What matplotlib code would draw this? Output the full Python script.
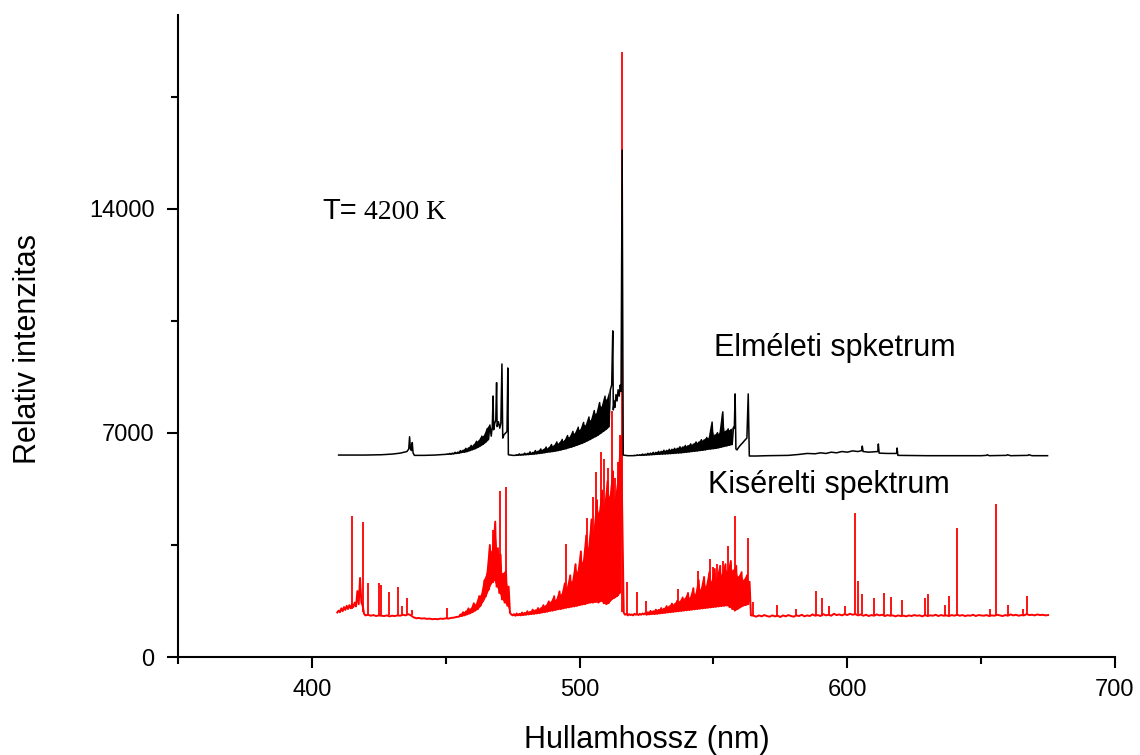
import numpy as np
import matplotlib
matplotlib.use("Agg")
import matplotlib.pyplot as plt

plt.rcParams['font.family'] = ['Liberation Sans', 'DejaVu Sans']
plt.rcParams['path.simplify'] = False

# ---------- theoretical spectrum (black) ----------
# sparse vertices: wavelength (nm), intensity
black_a_wl = [410, 420, 426, 430, 433, 435.5, 436.2, 436.5, 436.8, 437.2, 437.5, 437.8, 438.3, 442, 446, 449.5]
black_a_val = [6310, 6310, 6320, 6340, 6370, 6420, 6500, 6880, 6520, 6450, 6700, 6380, 6300, 6300, 6310, 6330]

# band 1, 0.5 nm samples from 450 nm (low / high pairs)
black_band1 = [6330, 6345, 6335, 6360, 6340, 6370, 6350, 6395, 6360, 6400, 6370, 6450,
               6390, 6460, 6400, 6520, 6420, 6530, 6450, 6610, 6480, 6620, 6510, 6740,
               6550, 6760, 6600, 6900, 6650, 6920, 6720, 7130, 6800, 7250, 6900]

black_b_wl = [467.4, 467.7, 467.9, 468.3, 468.7, 469.0, 469.2, 469.7, 470.2, 470.6, 471.0, 471.3,
              471.8, 472.4, 472.9, 473.2, 473.4, 475.0]
black_b_val = [7200, 8156, 7100, 7300, 7400, 8572, 7200, 7350, 7150, 7300, 9156, 6840,
               6950, 7000, 7050, 9031, 6320, 6300]

# band 2, 0.5 nm samples from 476 nm
black_band2 = [6300, 6320, 6305, 6345, 6310, 6335, 6315, 6370, 6320, 6360, 6325, 6410,
               6330, 6390, 6340, 6450, 6350, 6430, 6360, 6500, 6370, 6480, 6385, 6560,
               6400, 6530, 6410, 6640, 6420, 6600, 6435, 6720, 6450, 6680, 6470, 6800,
               6490, 6760, 6510, 6920, 6540, 6870, 6560, 7050, 6590, 6990, 6620, 7180,
               6650, 7100, 6680, 7330, 6720, 7240, 6760, 7500, 6800, 7400, 6850, 7700,
               6890, 7600, 6940, 7950, 7000, 7820, 7060, 8150, 7120, 8050, 7200, 8350]

black_c_wl = [512.0, 512.4, 512.6, 512.9, 513.2, 513.6, 514.0, 514.4, 514.8, 515.2, 515.5,
              515.9, 516.3, 518.0, 519.5]
black_c_val = [8500, 10190, 7720, 8000, 7800, 8200, 8000, 8350, 8150, 8500, 8300,
               15840, 6310, 6290, 6290]

# band 3, 0.5 nm samples from 520 nm
black_band3 = [6290, 6300, 6295, 6315, 6300, 6320, 6300, 6340, 6305, 6340, 6310, 6365,
               6315, 6370, 6320, 6395, 6325, 6395, 6330, 6425, 6335, 6425, 6340, 6460,
               6345, 6455, 6350, 6490, 6355, 6490, 6360, 6520, 6370, 6520, 6375, 6570,
               6380, 6560, 6390, 6610, 6400, 6600, 6410, 6660, 6420, 6650, 6430, 6720,
               6440, 6710, 6450, 6790, 6460, 6780, 6475, 6860, 6490, 6850, 6500, 7340,
               6510, 6930, 6520, 7010, 6540, 6990, 6560, 7660, 6580, 7050, 6600, 7130,
               6620, 7100, 6640, 7180]

black_d_wl = [557.8, 558.1, 558.4, 558.8, 559.5, 560.3, 561.0, 561.8, 562.5, 563.0, 563.4,
              566, 570, 578, 582, 585, 588, 590, 592, 594, 596, 598, 600, 602, 604,
              605.4, 605.6, 605.9, 608, 611.4, 611.6, 611.9, 615, 618.4, 618.6, 618.9,
              630, 650, 652, 652.3, 653, 659.5, 659.8, 661, 667.5, 667.8, 669, 674.8]
black_d_val = [7150, 8220, 6500, 6470, 6560, 6640, 6700, 6780, 6840, 8220, 6280,
               6280, 6290, 6300, 6330, 6360, 6350, 6380, 6360, 6400, 6380, 6420, 6400, 6440, 6420,
               6450, 6590, 6420, 6400, 6420, 6656, 6370, 6360, 6360, 6530, 6300,
               6290, 6290, 6300, 6320, 6290, 6300, 6320, 6290, 6300, 6320, 6290, 6290]

# ---------- experimental spectrum (red) ----------
# 0.5 nm samples from 409.5 nm
red_seg_a = [1390, 1450, 1400, 1520, 1430, 1560, 1470, 1600, 1500, 1620, 1520, 1650,
             1560, 1700, 1580, 2060, 1650, 2470, 1700, 1600, 1350]
# 1 nm samples from 420 nm
red_seg_b = [1300, 1320, 1290, 1310, 1280, 1300, 1290, 1280, 1300, 1270, 1290, 1280,
             1300, 1290, 1320, 1300, 1340, 1300, 1240, 1210, 1220, 1200, 1210, 1190,
             1200, 1180, 1190, 1180, 1200, 1190, 1210, 1200, 1220, 1230, 1250]
# 0.5 nm samples from 455 nm
red_band1 = [1260, 1330, 1280, 1400, 1300, 1420, 1330, 1520, 1360, 1500, 1400, 1680,
             1450, 1650, 1500, 1900, 1600, 1950, 1750, 2400, 1900, 2600, 2100, 3500,
             2300, 3300, 2400, 4230, 2200, 3400, 2000, 3200, 1800, 2600, 1700, 2700,
             1600, 2200, 1380, 1330]
# 0.5 nm samples from 475 nm
red_band2 = [1300, 1340, 1290, 1360, 1300, 1350, 1300, 1390, 1310, 1380, 1320, 1430,
             1330, 1410, 1340, 1480, 1350, 1460, 1360, 1530, 1370, 1520, 1390, 1620,
             1400, 1600, 1420, 1740, 1440, 1720, 1450, 1900, 1470, 1780, 1490, 2050,
             1500, 1950, 1520, 2300, 1540, 2150, 1550, 2550, 1570, 2350, 1580, 2900,
             1600, 2650, 1620, 3300, 1640, 2950, 1650, 3800, 1680, 3400, 1700, 4300,
             1700, 3900, 1720, 4900, 1700, 4500, 1750, 5200, 1680, 4700, 1650, 5500,
             1700, 5000, 1800, 5800, 1850, 4900, 1900, 5600, 2000, 6900]
# 0.5 nm samples from 516.5 nm
red_seg_c = [1380, 1320, 1350, 1300, 1340, 1310, 1330, 1300, 1350, 1320, 1340, 1310,
             1350, 1320, 1360, 1330, 1370]
# 0.5 nm samples from 525 nm
red_band3 = [1320, 1400, 1330, 1440, 1340, 1430, 1340, 1480, 1350, 1470, 1360, 1530,
             1370, 1510, 1380, 1590, 1390, 1580, 1400, 1670, 1410, 1650, 1420, 1760,
             1430, 1730, 1440, 1860, 1450, 1820, 1460, 2000, 1470, 1850, 1480, 2150,
             1490, 1950, 1500, 2400, 1510, 2100, 1520, 2500, 1530, 2200, 1540, 2650,
             1550, 2350, 1560, 2750, 1570, 2450, 1580, 2850, 1590, 2550, 1600, 2900,
             1610, 2650, 1560, 3000, 1500, 2700, 1450, 2850, 1500, 2500, 1550, 2650,
             1600, 2400, 1620, 2550, 1650, 2350, 1300]
# 1 nm samples from 565 nm
red_seg_d = [1290, 1260, 1300, 1270, 1310, 1280, 1260, 1300, 1270, 1290, 1250, 1300,
             1270, 1310, 1280, 1260, 1300, 1280, 1320, 1270, 1300, 1280, 1330, 1290,
             1310, 1280, 1340, 1300, 1320, 1290, 1350, 1310, 1330, 1300, 1340, 1310,
             1350, 1320, 1340, 1300, 1330, 1290, 1320, 1280, 1310, 1290, 1330, 1300,
             1320, 1280, 1310, 1290, 1300, 1270, 1300, 1280, 1290, 1270, 1300, 1280,
             1310, 1290, 1300, 1270, 1310, 1280, 1300, 1290, 1320, 1280, 1310, 1290,
             1300, 1280, 1310, 1290, 1320, 1290, 1310, 1280, 1300, 1290, 1320, 1280,
             1310, 1300, 1290, 1310, 1280, 1300, 1290, 1320, 1300, 1280, 1310, 1290,
             1330, 1300, 1320, 1290, 1310, 1300, 1340, 1310, 1320, 1300, 1330, 1310,
             1320, 1300, 1310]

# narrow atomic lines in the measured spectrum: position, foot, top
red_line_wl = [415.1, 419.2, 420.8, 425.2, 426.0, 428.9, 432.3, 433.5, 435.6, 437.3, 450.3,
               467.7, 470.4, 472.6,
               494.9, 502.7, 505.2, 506.0, 507.9, 509.0, 510.6, 512.0, 513.3, 514.3, 515.1, 516.0,
               517.9, 521.3, 524.7,
               536.6, 544.2, 546.5, 548.8, 549.8, 551.5, 553.4, 555.4, 558.0, 563.0,
               564.6, 573.7, 581.0, 588.2, 590.5, 593.0, 599.0, 602.8, 604.0, 605.5, 609.9,
               613.6, 616.5, 620.4, 629.2, 630.2, 636.5, 637.9, 641.1, 653.2, 655.5, 659.9,
               665.5, 667.2]
red_line_top = [4400, 4230, 2320, 2320, 2250, 2040, 2180, 1600, 1830, 1480, 1530,
                3980, 5190, 5300,
                3520, 4330, 5000, 5790, 6415, 6200, 5900, 7700, 5600, 6100, 6940, 18900,
                2350, 2040, 1750,
                2140, 2690, 2500, 3050, 2800, 2900, 3000, 3470, 4400, 3730,
                1720, 1625, 1500, 2060, 1850, 1600, 1580, 4510, 2375, 1960, 1850,
                1990, 1880, 1780, 1850, 1960, 1620, 1920, 4040, 1500, 4770, 1625,
                1500, 1920]
red_line_foot = [1500, 1400, 1300, 1300, 1290, 1300, 1290, 1300, 1300, 1300, 1210,
                 2300, 2000, 1700,
                 1540, 1650, 1700, 1720, 1750, 1680, 1650, 1800, 1850, 1900, 2000, 1400,
                 1330, 1320, 1340,
                 1420, 1500, 1520, 1540, 1550, 1570, 1590, 1610, 1450, 1650,
                 1290, 1280, 1280, 1300, 1290, 1300, 1310, 1320, 1340, 1330, 1290,
                 1300, 1290, 1290, 1300, 1280, 1290, 1300, 1290, 1280, 1300, 1310,
                 1300, 1310]


def samples(start, step, vals):
    return start + step * np.arange(len(vals))


def envelope(start, vals):
    # band lists alternate low / high every 0.5 nm
    n = len(vals) // 2
    return start + np.arange(n), vals[0:2 * n:2], vals[1:2 * n:2]


black_wl = np.concatenate([black_a_wl, samples(450, 0.5, black_band1), black_b_wl,
                           samples(476, 0.5, black_band2), black_c_wl,
                           samples(520, 0.5, black_band3), black_d_wl])
black_val = np.concatenate([black_a_val, black_band1, black_b_val, black_band2,
                            black_c_val, black_band3, black_d_val])

red_wl = np.concatenate([samples(409.5, 0.5, red_seg_a), samples(420, 1, red_seg_b),
                         samples(455, 0.5, red_band1), samples(475, 0.5, red_band2),
                         samples(516.5, 0.5, red_seg_c), samples(525, 0.5, red_band3),
                         samples(565, 1, red_seg_d)])
red_val = np.concatenate([red_seg_a, red_seg_b, red_band1, red_band2, red_seg_c,
                          red_band3, red_seg_d])

# ---------- plot ----------
fig = plt.figure(figsize=(11.4, 7.55), dpi=100)
ax = fig.add_axes([178 / 1140, 1 - 657 / 755, (1115 - 178) / 1140, (657 - 15) / 755])

for start, band in [(455, red_band1), (475, red_band2), (525, red_band3)]:
    x, lo, hi = envelope(start, band)
    ax.fill_between(x, lo, hi, color='red', lw=0)
ax.plot(red_wl, red_val, color='red', lw=1.4)
ax.vlines(red_line_wl, red_line_foot, red_line_top, color='red', lw=1.3)

for start, band in [(450, black_band1), (476, black_band2), (520, black_band3)]:
    x, lo, hi = envelope(start, band)
    ax.fill_between(x, lo, hi, color='black', lw=0)
ax.plot(black_wl, black_val, color='black', lw=1.1)

ax.set_xlim(350, 700)
ax.set_ylim(0, 20060)
ax.set_xticks([400, 500, 600, 700])
ax.set_xticks([350, 450, 550, 650], minor=True)
ax.set_yticks([0, 7000, 14000])
ax.set_yticks([3500, 10500, 17500], minor=True)
ax.tick_params(axis='both', which='major', direction='out', length=8, width=1.5, labelsize=17)
ax.tick_params(axis='both', which='minor', direction='out', length=5, width=1.5)
ax.tick_params(axis='y', which='major', pad=9)
ax.tick_params(axis='x', which='major', pad=8)
for s in ['top', 'right']:
    ax.spines[s].set_visible(False)
for s in ['left', 'bottom']:
    ax.spines[s].set_linewidth(1.5)

ax.set_xlabel("Hullamhossz (nm)", fontsize=22)
ax.set_ylabel("Relativ intenzitas", fontsize=22)
ax.xaxis.set_label_coords(0.5, -0.106)
ax.yaxis.set_label_coords(-0.144, 0.48)

fig.text(322 / 1140, 1 - 219 / 755, "T=", fontsize=21, va='baseline', ha='left')
fig.text(364 / 1140, 1 - 219 / 755, "4200 K", fontsize=20, va='baseline', ha='left',
         family=['Liberation Serif', 'DejaVu Serif'])
fig.text(714 / 1140, 1 - 348 / 755, "Elméleti spketrum", fontsize=22, va='center', ha='left')
fig.text(708 / 1140, 1 - 485 / 755, "Kisérelti spektrum", fontsize=22, va='center', ha='left')

fig.savefig("out.png", dpi=100)
